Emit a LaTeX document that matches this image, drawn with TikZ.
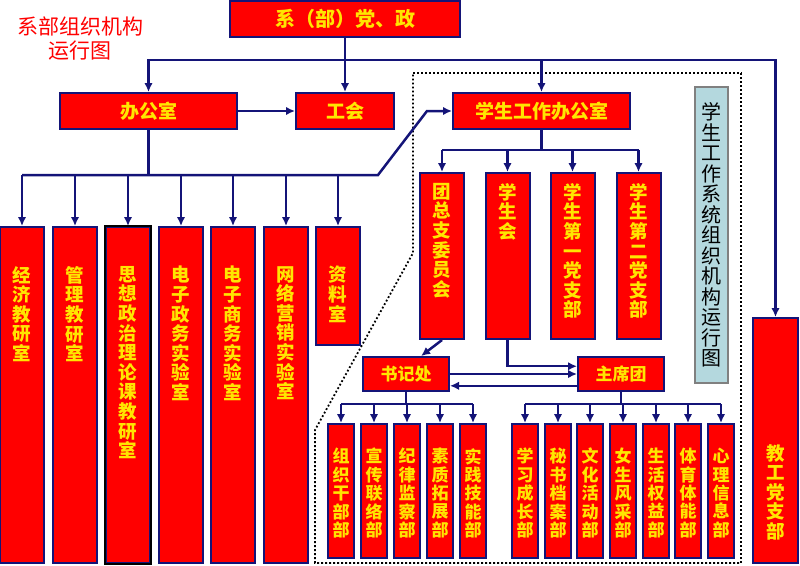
\documentclass[tikz,border=0pt]{standalone}
\usepackage{fontspec}
\newfontfamily\hei{Noto Sans CJK SC}
\usetikzlibrary{positioning, arrows.meta}
\definecolor{boxred}{RGB}{255,0,0}
\definecolor{txtyel}{RGB}{255,230,0}
\definecolor{navy}{RGB}{20,20,120}
\definecolor{paleblue}{RGB}{180,216,222}
\tikzset{
  conn/.style={draw=navy, line width=2.5pt},
  arr/.style={conn, >={Latex[length=9pt, width=8.5pt]}, ->},
  redbox/.style={draw=navy, fill=boxred, line width=2pt, inner sep=0pt},
  hlabel/.style={text=txtyel, font={\hei\bfseries\fontsize{19}{22}\selectfont}},
  vtxt/.style={text=txtyel, align=center, inner sep=0pt, font={\hei\bfseries\fontsize{18.5}{19.6}\selectfont}},
  vtxtsmall/.style={vtxt, font={\hei\bfseries\fontsize{17}{18.4}\selectfont}}
}
\begin{document}
\begin{tikzpicture}[x=1pt, y=-1pt]
  \useasboundingbox (0,0) rectangle (800,565);
  \draw [black, line width=1.8pt, dash pattern=on 1.8pt off 2.2pt]
    (413,73) -- (741,73) -- (741,563) -- (315,563) -- (315,430) -- (413,253) -- cycle;

  \node [text=boxred, align=center, font={\hei\fontsize{21}{24}\selectfont}] (title) at (80,39) {系部组织机构\\运行图};
  \node [redbox, minimum width=230pt, minimum height=36pt, hlabel, font={\hei\bfseries\fontsize{20}{22}\selectfont}] (dang) at (345,19) {系（部）党、政};
  \node [redbox, minimum width=177pt, minimum height=36pt, hlabel] (bgs) at (148.5,111) {办公室};
  \node [redbox, minimum width=98pt, minimum height=36pt, hlabel] (gh) at (345,111) {工会};
  \node [redbox, minimum width=177pt, minimum height=36pt, hlabel] (xg) at (541.5,111) {学生工作办公室};
  \node [redbox, minimum width=45pt, minimum height=245pt] (jgdz) at (775.5,440.5) {};
  \node [vtxt, below=127pt of jgdz.north] (jgl) {教\\工\\党\\支\\部};
  \node [draw=gray, fill=paleblue, line width=1.5pt, minimum width=33pt, minimum height=296pt, inner sep=0pt,
    align=center, font={\hei\fontsize{20}{20.5}\selectfont}] (sysname) at (711.5,235)
    {学\\生\\工\\作\\系\\统\\组\\织\\机\\构\\运\\行\\图};

  \coordinate (ytop) at (0,60);
  \draw [arr] (dang.south) -- (gh.north);
  \draw [arr] (dang.south |- ytop) -| (bgs.north);
  \draw [arr] (dang.south |- ytop) -| (jgdz.north);
  \draw [arr] (xg.north |- ytop) -- (xg.north);
  \draw [arr] (bgs) -- (gh);

  \coordinate (ymid) at (0,175);
  \coordinate (kink1) at (378,175);
  \coordinate (kink2) at (427,111);
  \foreach \i/\cx/\h/\txt in {1/22/336/{经\\济\\教\\研\\室}, 2/75/336/{管\\理\\教\\研\\室},
    3/128/336/{思\\想\\政\\治\\理\\论\\课\\教\\研\\室}, 4/181/336/{电\\子\\政\\务\\实\\验\\室},
    5/233/336/{电\\子\\商\\务\\实\\验\\室}, 6/286/336/{网\\络\\营\\销\\实\\验\\室}, 7/338/118/{资\\料\\室}}
  {
    \node [redbox, minimum width=44pt, minimum height=\h pt, anchor=north] (col\i) at (\cx,226) {};
    \node [vtxt, below=40pt of col\i.north] (lbl\i) {\txt};
    \draw [arr] (col\i.north |- ymid) -- (col\i.north);
  }
  \draw [black, line width=2pt] (col3.north west) rectangle (col3.south east);
  \draw [conn] (bgs.south) -- (bgs.south |- ymid);
  \draw [arr] (col1.north |- ymid) -- (kink1) -- (kink2) -- (xg.west);

  \coordinate (yxg) at (0,150);
  \foreach \i/\cx/\txt in {1/442/{团\\总\\支\\委\\员\\会}, 2/507.5/{学\\生\\会},
    3/572.5/{学\\生\\第\\一\\党\\支\\部}, 4/638.5/{学\\生\\第\\二\\党\\支\\部}}
  {
    \node [redbox, minimum width=44pt, minimum height=166pt, anchor=north] (xs\i) at (\cx,172) {};
    \node [vtxt, below=11pt of xs\i.north] (xl\i) {\txt};
    \draw [arr] (xs\i.north |- yxg) -- (xs\i.north);
  }
  \draw [conn] (xg.south) -- (xg.south |- yxg);
  \draw [conn] (xs1.north |- yxg) -- (xs4.north |- yxg);

  \node [redbox, minimum width=86pt, minimum height=34pt, hlabel, font={\hei\bfseries\fontsize{17}{20}\selectfont}] (sjc) at (406,374) {书记处};
  \node [redbox, minimum width=86pt, minimum height=34pt, hlabel, font={\hei\bfseries\fontsize{17}{20}\selectfont}] (zxt) at (621,374) {主席团};
  \draw [arr] (xs1.south) -- (sjc.50);
  \draw [arr] (xs2.south) |- (zxt.170);
  \draw [arr] (sjc.east) -- (zxt.west);
  \draw [arr] (zxt.195) -- (sjc.-15);

  \coordinate (ysub) at (0,404);
  \foreach \i/\cx/\txt in {1/341/{组\\织\\干\\部\\部}, 2/374/{宣\\传\\联\\络\\部}, 3/407/{纪\\律\\监\\察\\部},
    4/440/{素\\质\\拓\\展\\部}, 5/473/{实\\践\\技\\能\\部}}
  {
    \node [redbox, minimum width=26pt, minimum height=134pt, anchor=north] (sa\i) at (\cx,423) {};
    \node [vtxtsmall, below=25pt of sa\i.north] (sal\i) {\txt};
    \draw [arr] (sa\i.north |- ysub) -- (sa\i.north);
  }
  \draw [conn] (sjc.south) -- (sjc.south |- ysub);
  \draw [conn] (sa1.north |- ysub) -- (sa5.north |- ysub);

  \foreach \i/\cx/\txt in {1/525/{学\\习\\成\\长\\部}, 2/558/{秘\\书\\档\\案\\部}, 3/590/{文\\化\\活\\动\\部},
    4/623/{女\\生\\风\\采\\部}, 5/656/{生\\活\\权\\益\\部}, 6/688/{体\\育\\体\\能\\部}, 7/721/{心\\理\\信\\息\\部}}
  {
    \node [redbox, minimum width=26pt, minimum height=134pt, anchor=north] (sb\i) at (\cx,423) {};
    \node [vtxtsmall, below=25pt of sb\i.north] (sbl\i) {\txt};
    \draw [arr] (sb\i.north |- ysub) -- (sb\i.north);
  }
  \draw [conn] (zxt.south) -- (zxt.south |- ysub);
  \draw [conn] (sb1.north |- ysub) -- (sb7.north |- ysub);
\end{tikzpicture}
\end{document}
